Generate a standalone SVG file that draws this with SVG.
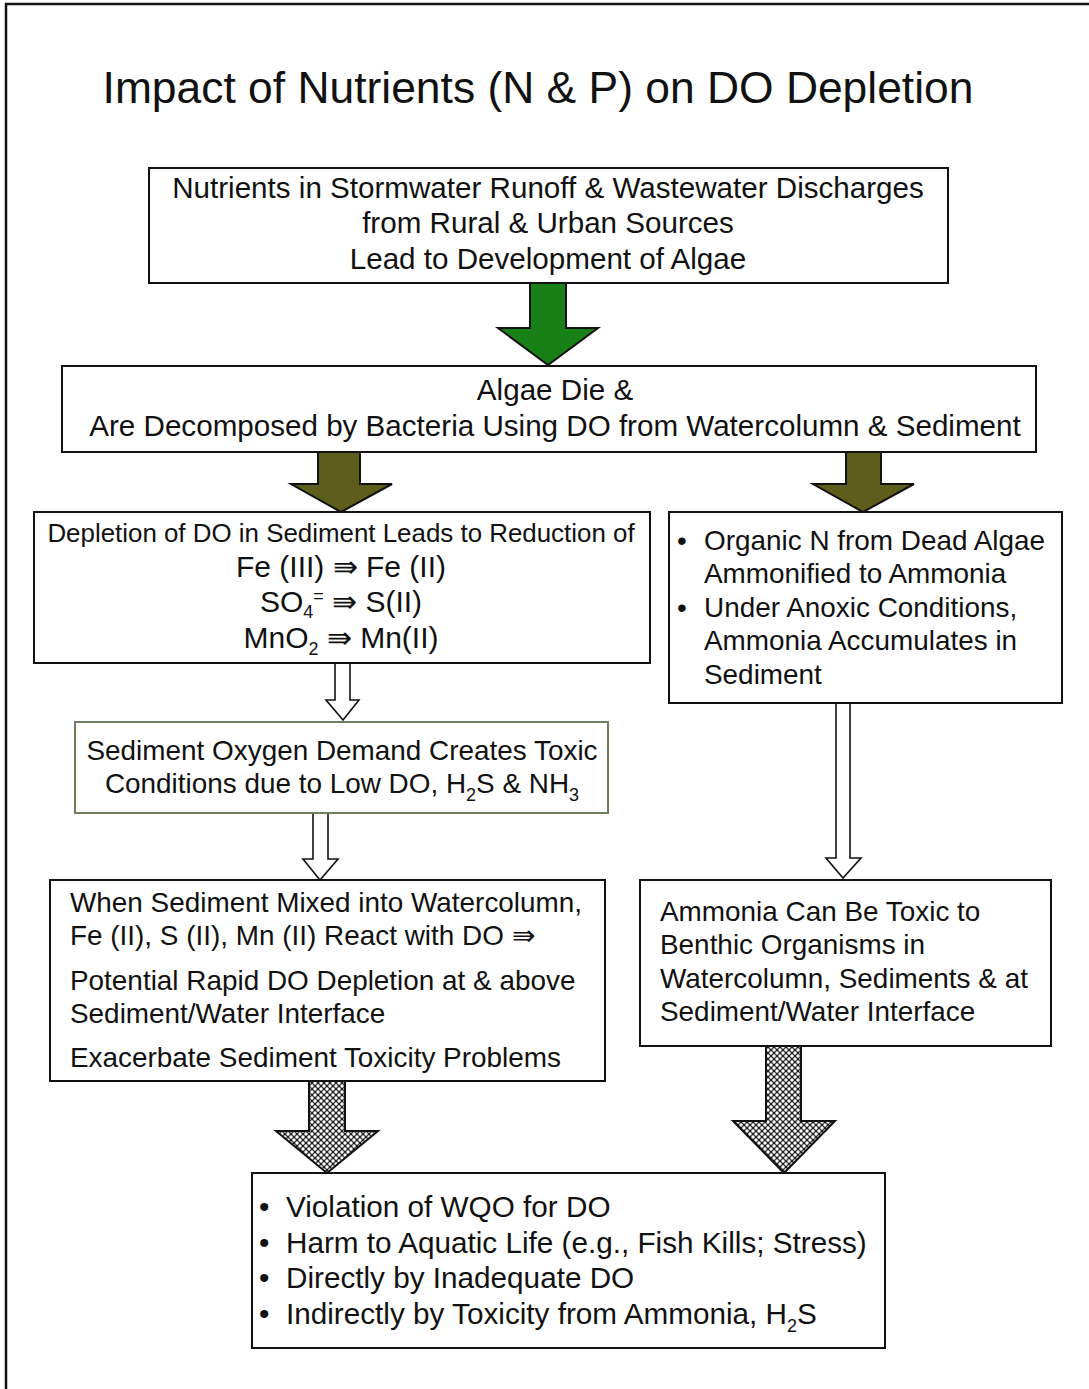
<svg xmlns="http://www.w3.org/2000/svg" width="1089" height="1389" viewBox="0 0 1089 1389">
<style>
text{font-family:"Liberation Sans",Arial,sans-serif;fill:#111}
.box{fill:#fff;stroke:#111;stroke-width:2}
.c{text-anchor:middle}
.t26{font-size:27.9px}
.t27{font-size:29.6px}
.t24{font-size:25.9px}
.t30{font-size:30px}
.t28{font-size:29.7px}
.hollow{fill:#fff;stroke:#111;stroke-width:1.6}
.green{fill:#178017;stroke:#111;stroke-width:2}
.olive{fill:#5e5e1c;stroke:#111;stroke-width:2}
.hatch{fill:url(#xh);stroke:#111;stroke-width:2}
.sub{font-size:18px}
</style>
<defs>
<pattern id="xh" width="6" height="6" patternUnits="userSpaceOnUse">
<rect width="6" height="6" fill="#222"/>
<circle cx="0" cy="0" r="1.7" fill="#fff"/>
<circle cx="6" cy="0" r="1.7" fill="#fff"/>
<circle cx="0" cy="6" r="1.7" fill="#fff"/>
<circle cx="6" cy="6" r="1.7" fill="#fff"/>
<circle cx="3" cy="3" r="1.7" fill="#fff"/>
</pattern>
</defs>
<rect width="1089" height="1389" fill="#fff"/>
<path d="M6 1389 V4 H1089" fill="none" stroke="#111" stroke-width="2.5"/>
<text x="538" y="103" class="c" font-size="44.4">Impact of Nutrients (N &amp; P) on DO Depletion</text>

<g id="connectors">
<path class="green" d="M530 283 V328 H498 L548 365 L598 328 H566 V283 Z"/>
<path class="olive" d="M318 452 V484 H291 L341 512 L392 484 H360 V452 Z"/>
<path class="olive" d="M846 452 V484 H813 L863 512 L914 484 H881 V452 Z"/>
<path class="hollow" d="M335 663 V700 H326 L343 720 L359 700 H350 V663 Z"/>
<path class="hollow" d="M313 813 V859 H303 L320 880 L338 859 H328 V813 Z"/>
<path class="hollow" d="M836 703 V858 H826 L843 878 L861 858 H850 V703 Z"/>
<path class="hatch" d="M309 1081 V1131 H276 L327 1173 L378 1131 H345 V1081 Z"/>
<path class="hatch" d="M766 1046 V1121 H733 L784 1173 L835 1121 H801 V1046 Z"/>
</g>

<g id="n1">
<rect class="box" x="149" y="168" width="799" height="115"/>
<text class="c t27" x="548" y="198">Nutrients in Stormwater Runoff &amp; Wastewater Discharges</text>
<text class="c t27" x="548" y="233">from Rural &amp; Urban Sources</text>
<text class="c t27" x="548" y="269">Lead to Development of Algae</text>
</g>

<g id="n2">
<rect class="box" x="62" y="366" width="974" height="86"/>
<text class="c t27" x="555" y="400">Algae Die &amp;</text>
<text class="c t27" x="555" y="436">Are Decomposed by Bacteria Using DO from Watercolumn &amp; Sediment</text>
</g>

<g id="n3">
<rect class="box" x="34" y="512" width="616" height="151"/>
<text class="c t24" x="341" y="542">Depletion of DO in Sediment Leads to Reduction of</text>
<text class="c t30" x="341" y="577">Fe (III) ⇛ Fe (II)</text>
<text class="c t30" x="341" y="612">SO<tspan class="sub" dy="6">4</tspan><tspan class="sub" dy="-16">=</tspan><tspan dy="10"> ⇛ S(II)</tspan></text>
<text class="c t30" x="341" y="648">MnO<tspan class="sub" dy="7">2</tspan><tspan dy="-7"> ⇛ Mn(II)</tspan></text>
</g>

<g id="n4">
<rect class="box" x="669" y="512" width="393" height="191"/>
<text class="t26" x="677" y="550">•</text>
<text class="t26" x="704" y="550">Organic N from Dead Algae</text>
<text class="t26" x="704" y="583">Ammonified to Ammonia</text>
<text class="t26" x="677" y="617">•</text>
<text class="t26" x="704" y="617">Under Anoxic Conditions,</text>
<text class="t26" x="704" y="650">Ammonia Accumulates in</text>
<text class="t26" x="704" y="684">Sediment</text>
</g>

<g id="n5">
<rect x="75" y="722" width="533" height="91" fill="#fff" stroke="#6f7f5f" stroke-width="2"/>
<text class="c t26" x="342" y="760">Sediment Oxygen Demand Creates Toxic</text>
<text class="c t26" x="342" y="793">Conditions due to Low DO, H<tspan class="sub" dy="8">2</tspan><tspan dy="-8">S &amp; NH</tspan><tspan class="sub" dy="8">3</tspan></text>
</g>

<g id="n6">
<rect class="box" x="50" y="880" width="555" height="201"/>
<text class="t26" x="70" y="912">When Sediment Mixed into Watercolumn,</text>
<text class="t26" x="70" y="945">Fe (II), S (II), Mn (II) React with DO ⇛</text>
<text class="t26" x="70" y="990">Potential Rapid DO Depletion at &amp; above</text>
<text class="t26" x="70" y="1023">Sediment/Water Interface</text>
<text class="t26" x="70" y="1067">Exacerbate Sediment Toxicity Problems</text>
</g>

<g id="n7">
<rect class="box" x="640" y="880" width="411" height="166"/>
<text class="t26" x="660" y="921">Ammonia Can Be Toxic to</text>
<text class="t26" x="660" y="954">Benthic Organisms in</text>
<text class="t26" x="660" y="988">Watercolumn, Sediments &amp; at</text>
<text class="t26" x="660" y="1021">Sediment/Water Interface</text>
</g>

<g id="n8">
<rect class="box" x="252" y="1173" width="633" height="175"/>
<text class="t28" x="259" y="1217">•</text>
<text class="t28" x="286" y="1217">Violation of WQO for DO</text>
<text class="t28" x="259" y="1253">•</text>
<text class="t28" x="286" y="1253">Harm to Aquatic Life (e.g., Fish Kills; Stress)</text>
<text class="t28" x="259" y="1288">•</text>
<text class="t28" x="286" y="1288">Directly by Inadequate DO</text>
<text class="t28" x="259" y="1324">•</text>
<text class="t28" x="286" y="1324">Indirectly by Toxicity from Ammonia, H<tspan class="sub" dy="8">2</tspan><tspan dy="-8">S</tspan></text>
</g>
</svg>
